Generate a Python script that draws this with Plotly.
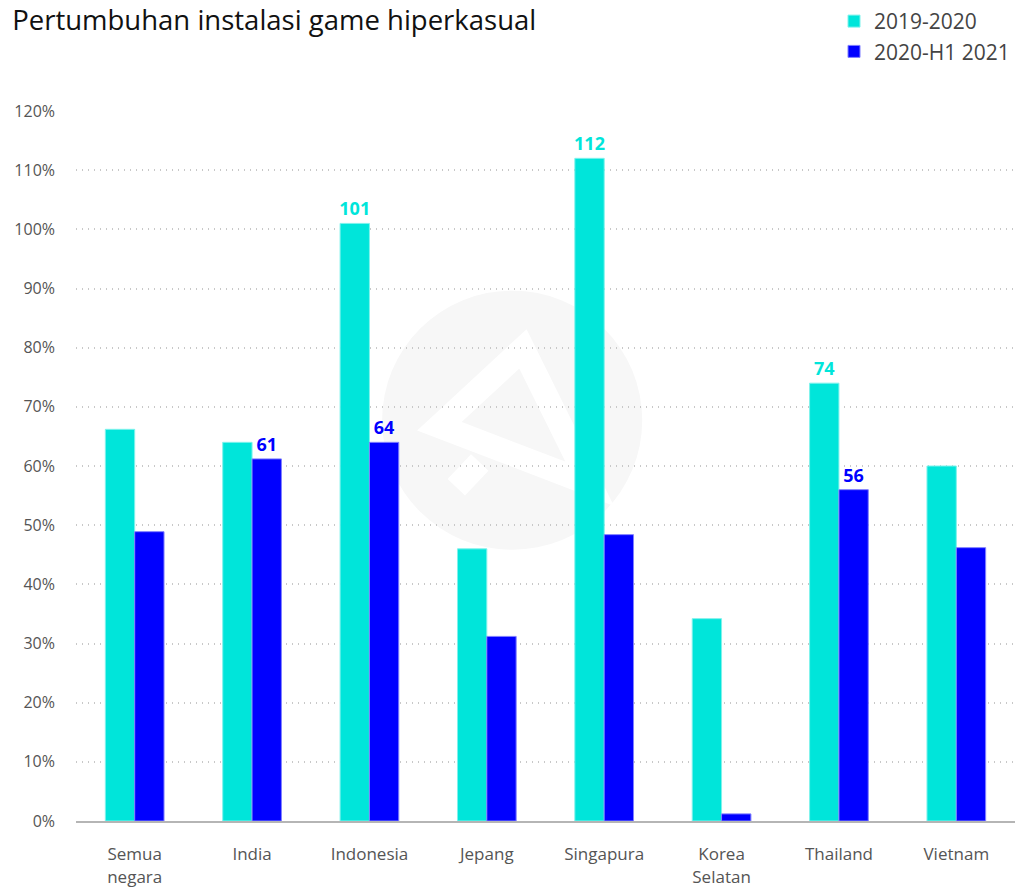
import plotly.graph_objects as go

categories = ["Semua<br>negara", "India", "Indonesia", "Jepang", "Singapura",
              "Korea<br>Selatan", "Thailand", "Vietnam"]
growth_2019_2020 = [66.2, 64.0, 101.0, 46.0, 112.0, 34.2, 74.0, 60.0]
growth_2020_h1_2021 = [48.9, 61.2, 64.0, 31.2, 48.4, 1.2, 56.0, 46.2]
# which bars carry a value label
labelled_2019_2020 = ["Indonesia", "Singapura", "Thailand"]
labelled_2020_h1_2021 = ["India", "Indonesia", "Thailand"]
tick_values = [0, 10, 20, 30, 40, 50, 60, 70, 80, 90, 100, 110, 120]
tick_labels = [f"{v}%" for v in tick_values]

CYAN = "#00E5DA"
BLUE = "#0000FF"
FONT = "'Open Sans', 'Noto Sans', sans-serif"


def labels_for(values, shown):
    return [f"{v:.0f}" if c in shown else "" for c, v in zip(categories, values)]


fig = go.Figure()
fig.add_trace(go.Bar(
    x=categories, y=growth_2019_2020, name="2019-2020",
    marker=dict(color=CYAN, line=dict(color="#7ff2ec", width=1)),
    text=labels_for(growth_2019_2020, labelled_2019_2020),
    textposition="outside", constraintext="none", cliponaxis=False,
    textfont=dict(size=18, color=CYAN, family=FONT, weight="bold"),
))
fig.add_trace(go.Bar(
    x=categories, y=growth_2020_h1_2021, name="2020-H1 2021",
    marker=dict(color=BLUE, line=dict(color="#8080ff", width=1)),
    text=labels_for(growth_2020_h1_2021, labelled_2020_h1_2021),
    textposition="outside", constraintext="none", cliponaxis=False,
    textfont=dict(size=18, color=BLUE, family=FONT, weight="bold"),
))

# faint watermark behind the bars
fig.add_shape(type="circle", xref="paper", yref="paper", layer="below",
              x0=0.326, x1=0.603, y0=0.382, y1=0.747,
              fillcolor="#f7f7f7", line=dict(width=0))
fig.add_shape(type="path", xref="paper", yref="paper", layer="below",
              path="M 0.387,0.556 L 0.476,0.665 L 0.547,0.475 Z "
                   "M 0.430,0.505 L 0.405,0.470",
              fillcolor="rgba(0,0,0,0)", line=dict(color="white", width=24))

fig.update_layout(
    width=1016, height=890,
    paper_bgcolor="white", plot_bgcolor="white",
    margin=dict(l=76, r=1, t=109, b=69),
    barmode="group", bargap=0.5, bargroupgap=0,
    font=dict(family=FONT, size=16, color="#555555"),
    title=dict(text="Pertumbuhan instalasi game hiperkasual",
               x=0.012, xanchor="left", y=0.977, yanchor="middle",
               font=dict(size=27.5, color="#111111", family=FONT)),
    legend=dict(x=1.0, xanchor="right", y=1.155, yanchor="top",
                font=dict(size=21, color="#444444"),
                itemwidth=30, tracegroupgap=2),
    showlegend=True,
)
fig.update_xaxes(showline=True, linecolor="#b5b5b5", linewidth=2,
                 showgrid=False, ticks="", ticklabelstandoff=17, automargin=False,
                 tickfont=dict(size=17, color="#555555"))
fig.update_yaxes(range=[0, 120], tickvals=tick_values, ticktext=tick_labels,
                 showgrid=True, gridcolor="#c8c8c8", griddash="1px,5px", gridwidth=1.5,
                 zeroline=False, ticks="", ticklabelstandoff=20, automargin=False,
                 tickfont=dict(size=16, color="#555555"))

fig.write_html("out.html", config={"displayModeBar": False},
               post_script="document.body.style.margin='0px';"
                           "document.body.style.overflow='hidden';")
